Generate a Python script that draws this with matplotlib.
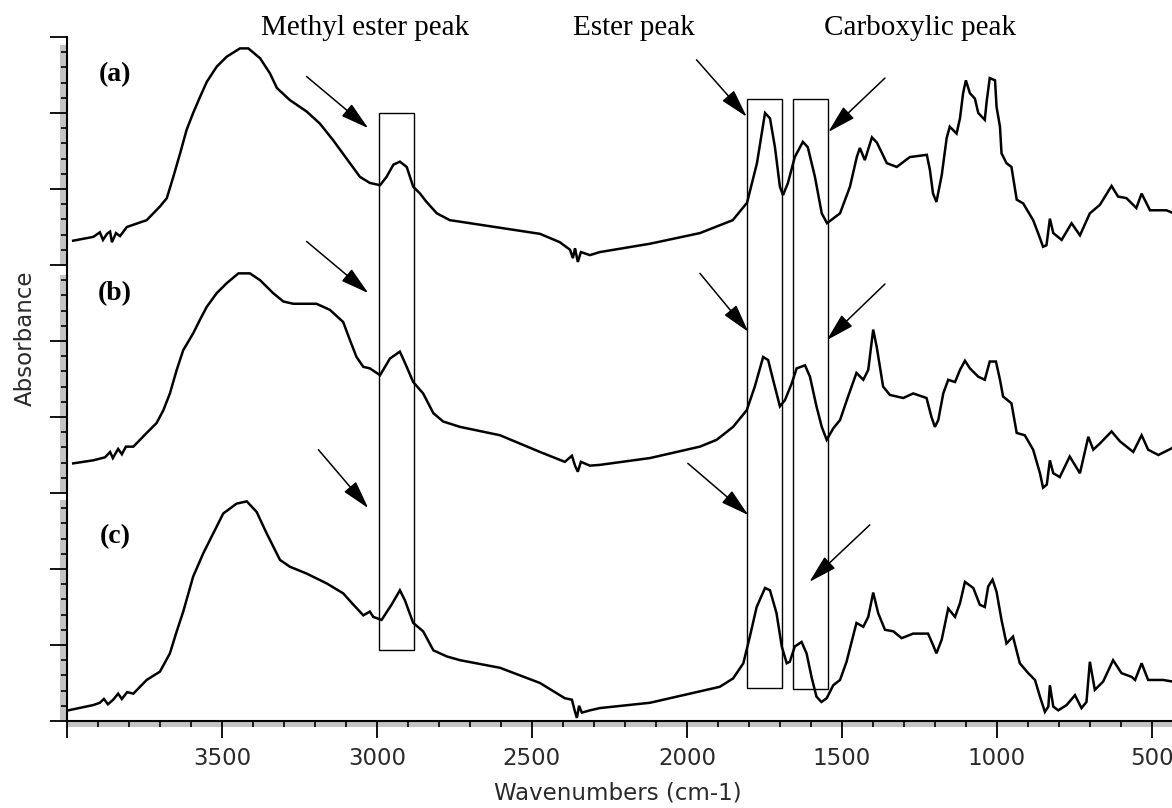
import matplotlib
matplotlib.use("Agg")
import matplotlib.pyplot as plt
from matplotlib.patches import Rectangle
from matplotlib.ticker import MultipleLocator, FixedLocator

# ---------------- data (wavenumber cm-1, absorbance in stacked units) ----------------
wn_a = [3980, 3915, 3894, 3884, 3871, 3861, 3855, 3842, 3829, 3807, 3743, 3700, 3678, 3657,
        3635, 3614, 3593, 3571, 3549, 3517, 3485, 3442, 3415, 3377, 3345, 3323, 3281, 3227,
        3184, 3141, 3098, 3055, 3023, 2990, 2969, 2947, 2926, 2904, 2883, 2861, 2840, 2807,
        2765, 2732, 2603, 2474, 2410, 2377, 2368, 2361, 2352, 2342, 2313, 2281, 2119, 1958,
        1852, 1806, 1774, 1748, 1732, 1716, 1700, 1690, 1674, 1652, 1626, 1610, 1587, 1565,
        1548, 1506, 1474, 1452, 1442, 1426, 1403, 1387, 1355, 1323, 1281, 1226, 1216, 1206,
        1195, 1178, 1162, 1152, 1130, 1119, 1109, 1100, 1087, 1071, 1060, 1039, 1033, 1023,
        1006, 1001, 990, 985, 969, 953, 936, 915, 883, 867, 851, 840, 829, 818, 791, 759,
        732, 700, 668, 630, 609, 582, 550, 533, 517, 506, 453, 435]
abs_a = [0.32, 0.37, 0.43, 0.33, 0.41, 0.44, 0.30, 0.42, 0.38, 0.50, 0.59, 0.77, 0.88, 1.16,
         1.47, 1.78, 2.00, 2.21, 2.41, 2.61, 2.74, 2.85, 2.85, 2.72, 2.52, 2.33, 2.17, 2.02,
         1.86, 1.64, 1.40, 1.16, 1.08, 1.05, 1.16, 1.32, 1.36, 1.29, 1.03, 0.94, 0.83, 0.68,
         0.59, 0.57, 0.49, 0.41, 0.30, 0.20, 0.09, 0.22, 0.04, 0.17, 0.13, 0.17, 0.28, 0.42,
         0.59, 0.82, 1.34, 2.00, 1.93, 1.55, 1.03, 0.92, 1.08, 1.42, 1.62, 1.55, 1.16, 0.68,
         0.55, 0.68, 1.03, 1.42, 1.54, 1.38, 1.68, 1.61, 1.34, 1.29, 1.42, 1.45, 1.25, 0.94,
         0.83, 1.18, 1.67, 1.82, 1.73, 1.93, 2.26, 2.43, 2.26, 2.19, 2.00, 1.91, 2.15, 2.46,
         2.43, 2.08, 1.82, 1.47, 1.34, 1.29, 0.86, 0.81, 0.59, 0.42, 0.24, 0.26, 0.61, 0.42,
         0.33, 0.55, 0.39, 0.68, 0.79, 1.04, 0.90, 0.88, 0.75, 0.94, 0.81, 0.72, 0.72, 0.69]

wn_b = [3980, 3915, 3877, 3861, 3852, 3835, 3823, 3810, 3786, 3743, 3711, 3689, 3668, 3646,
        3625, 3593, 3571, 3549, 3517, 3485, 3447, 3410, 3377, 3335, 3302, 3270, 3195, 3152,
        3109, 3087, 3066, 3044, 3023, 2990, 2958, 2926, 2904, 2883, 2851, 2818, 2786, 2732,
        2603, 2474, 2394, 2371, 2361, 2352, 2342, 2313, 2281, 2119, 1958, 1904, 1851, 1807,
        1781, 1754, 1738, 1722, 1700, 1684, 1662, 1646, 1619, 1603, 1582, 1565, 1549, 1528,
        1506, 1480, 1453, 1431, 1415, 1399, 1388, 1367, 1345, 1302, 1270, 1227, 1211, 1200,
        1189, 1173, 1157, 1135, 1119, 1103, 1087, 1060, 1039, 1023, 1003, 990, 980, 953,
        936, 910, 883, 861, 851, 839, 829, 818, 797, 765, 732, 705, 689, 668, 630, 603,
        560, 533, 512, 479, 435]
abs_b = [0.39, 0.43, 0.47, 0.54, 0.46, 0.58, 0.51, 0.61, 0.61, 0.79, 0.92, 1.09, 1.31, 1.62,
         1.88, 2.10, 2.28, 2.45, 2.63, 2.76, 2.89, 2.89, 2.80, 2.63, 2.52, 2.49, 2.49, 2.41,
         2.25, 2.01, 1.79, 1.66, 1.64, 1.55, 1.77, 1.86, 1.66, 1.46, 1.31, 1.05, 0.94, 0.87,
         0.76, 0.54, 0.41, 0.49, 0.36, 0.28, 0.41, 0.36, 0.37, 0.46, 0.61, 0.70, 0.87, 1.09,
         1.40, 1.79, 1.75, 1.49, 1.14, 1.22, 1.44, 1.64, 1.68, 1.53, 1.14, 0.87, 0.70, 0.85,
         0.96, 1.27, 1.58, 1.49, 1.62, 2.15, 1.93, 1.40, 1.29, 1.25, 1.31, 1.25, 1.00, 0.87,
         0.96, 1.31, 1.49, 1.46, 1.62, 1.74, 1.64, 1.53, 1.49, 1.73, 1.73, 1.49, 1.27, 1.18,
         0.79, 0.76, 0.57, 0.26, 0.07, 0.11, 0.43, 0.26, 0.21, 0.48, 0.26, 0.74, 0.57, 0.65,
         0.81, 0.68, 0.54, 0.76, 0.57, 0.50, 0.59]

wn_c = [3996, 3915, 3894, 3881, 3868, 3851, 3835, 3823, 3806, 3786, 3743, 3700, 3668, 3646,
        3625, 3593, 3560, 3528, 3496, 3453, 3420, 3388, 3356, 3313, 3281, 3227, 3162, 3109,
        3076, 3044, 3023, 3012, 2985, 2953, 2926, 2910, 2883, 2851, 2818, 2775, 2732, 2603,
        2474, 2394, 2371, 2361, 2355, 2348, 2339, 2313, 2281, 2119, 1958, 1894, 1851, 1818,
        1797, 1775, 1748, 1732, 1711, 1694, 1678, 1668, 1652, 1630, 1614, 1598, 1582, 1566,
        1549, 1528, 1506, 1485, 1453, 1431, 1415, 1399, 1383, 1361, 1334, 1307, 1270, 1222,
        1206, 1195, 1178, 1157, 1135, 1119, 1103, 1076, 1055, 1039, 1028, 1014, 1001, 985,
        969, 948, 926, 899, 877, 861, 845, 834, 829, 818, 802, 775, 748, 727, 711, 700,
        684, 657, 625, 598, 565, 554, 533, 512, 463, 435]
abs_c = [0.14, 0.21, 0.24, 0.29, 0.22, 0.28, 0.36, 0.29, 0.38, 0.36, 0.54, 0.65, 0.89, 1.18,
         1.44, 1.90, 2.21, 2.47, 2.73, 2.86, 2.89, 2.75, 2.47, 2.12, 2.03, 1.94, 1.81, 1.68,
         1.53, 1.39, 1.44, 1.37, 1.33, 1.53, 1.72, 1.59, 1.29, 1.18, 0.93, 0.85, 0.80, 0.70,
         0.50, 0.30, 0.28, 0.12, 0.04, 0.20, 0.11, 0.14, 0.17, 0.24, 0.39, 0.45, 0.56, 0.76,
         1.11, 1.50, 1.75, 1.72, 1.42, 0.98, 0.76, 0.78, 0.98, 1.04, 0.89, 0.58, 0.32, 0.25,
         0.30, 0.47, 0.54, 0.78, 1.29, 1.24, 1.37, 1.69, 1.42, 1.20, 1.18, 1.09, 1.15, 1.15,
         1.00, 0.89, 1.07, 1.48, 1.37, 1.55, 1.83, 1.75, 1.53, 1.50, 1.77, 1.86, 1.70, 1.33,
         1.02, 1.11, 0.76, 0.63, 0.54, 0.32, 0.12, 0.19, 0.47, 0.19, 0.14, 0.21, 0.34, 0.17,
         0.25, 0.78, 0.41, 0.52, 0.80, 0.63, 0.58, 0.54, 0.76, 0.54, 0.54, 0.52]

spectra = [(wn_a, abs_a), (wn_b, abs_b), (wn_c, abs_c)]
offsets = [6, 3, 0]
panel_labels = ["(a)", "(b)", "(c)"]
label_wn = 3845
label_y = [8.50, 5.63, 2.42]

# highlighted bands: (wn_left, wn_right, y_bottom, y_top)
boxes = [(2994, 2881, 0.93, 8.00), (1807, 1692, 0.43, 8.19), (1659, 1546, 0.42, 8.18)]
# arrows: (start_wn, start_y, tip_wn, tip_y)
arrows = [
    (3227, 8.48, 3028, 7.80), (3227, 6.31, 3028, 5.63), (3189, 3.57, 3028, 2.80),
    (1969, 8.70, 1807, 7.95), (1958, 5.89, 1802, 5.12), (1997, 3.39, 1802, 2.71),
    (1361, 8.46, 1544, 7.75), (1361, 5.75, 1549, 5.01), (1410, 2.58, 1605, 1.83),
]
peak_titles = [("Methyl ester peak", 3039), ("Ester peak", 2171), ("Carboxylic peak", 1248)]

xticks = [4000, 3500, 3000, 2500, 2000, 1500, 1000, 500]
xticklabels = ["", "3500", "3000", "2500", "2000", "1500", "1000", "500"]

# ---------------- figure ----------------
W, H = 1172, 808
fig = plt.figure(figsize=(W / 100, H / 100), dpi=100)
fig.patch.set_facecolor("white")
ax = fig.add_axes([67 / W, (H - 721) / H, (W - 67) / W, (721 - 37) / H])

for (wn, ab), off in zip(spectra, offsets):
    ax.plot(wn, [v + off for v in ab], color="black", lw=1.8, solid_joinstyle="miter")

ax.set_xlim(4000, 435)
ax.set_ylim(0, 9)

for x0, x1, y0, y1 in boxes:
    ax.add_patch(Rectangle((x1, y0), x0 - x1, y1 - y0, fill=False, ec="black", lw=1.0,
                           clip_on=False, zorder=3))

for sx, sy, tx, ty in arrows:
    ax.annotate("", xy=(tx, ty), xytext=(sx, sy),
                arrowprops=dict(arrowstyle="-|>,head_length=0.8,head_width=0.22",
                                mutation_scale=22, color="black", lw=1.1,
                                shrinkA=0, shrinkB=0),
                annotation_clip=False)

for txt, y in zip(panel_labels, label_y):
    ax.text(label_wn, y, txt, ha="center", va="center", fontsize=20, fontweight="bold",
            family="Liberation Serif")

for txt, xw in peak_titles:
    ax.text(xw, 9.03, txt, ha="center", va="baseline", fontsize=21,
            family="Liberation Serif", clip_on=False)

# axes style
for s in ["top", "right"]:
    ax.spines[s].set_visible(False)
for s in ["left", "bottom"]:
    ax.spines[s].set_linewidth(1.5)

ax.xaxis.set_major_locator(FixedLocator(xticks))
ax.set_xticklabels(xticklabels)
ax.xaxis.set_minor_locator(MultipleLocator(100))
ax.yaxis.set_major_locator(MultipleLocator(1))
ax.yaxis.set_minor_locator(MultipleLocator(0.2))
ax.set_yticklabels([])
ax.tick_params(axis="both", which="major", direction="out", length=12, width=1.3,
               color="black", pad=7, labelsize=16.5, labelcolor="#2a2a2a")
ax.tick_params(axis="both", which="minor", direction="out", length=4, width=1.2,
               color="black")
for lab in ax.get_xticklabels():
    lab.set_family("DejaVu Sans")

# grey bands beside the axes
for top, bot in [(45, 265), (275, 493), (500, 721)]:
    fig.patches.append(Rectangle((60 / W, (H - bot) / H), 6 / W, (bot - top) / H,
                                 transform=fig.transFigure, fc="#c4c4c4", ec="none",
                                 zorder=-1))
fig.patches.append(Rectangle((67 / W, (H - 727) / H), (W - 67) / W, 5 / H,
                             transform=fig.transFigure, fc="#c4c4c4", ec="none", zorder=-1))

fig.text(618 / W, 1 - 793 / H, "Wavenumbers (cm-1)", ha="center", va="center",
         fontsize=16.5, color="#2a2a2a", family="DejaVu Sans")
fig.text(25 / W, 1 - 338 / H, "Absorbance", ha="center", va="center", rotation=90,
         fontsize=16.5, color="#2a2a2a", family="DejaVu Sans")

fig.savefig("out.png", dpi=100, facecolor="white")
